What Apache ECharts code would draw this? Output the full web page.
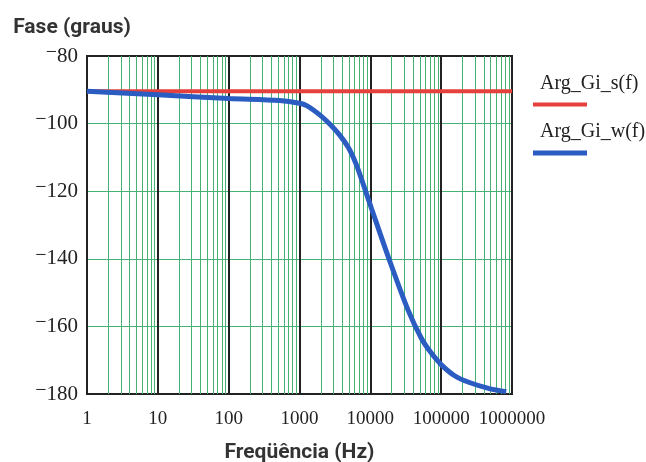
<!DOCTYPE html>
<html>
<head>
<meta charset="utf-8">
<script src="https://cdn.jsdelivr.net/npm/echarts@6/dist/echarts.min.js"></script>
<style>
  html, body { margin: 0; padding: 0; background: #fff; }
  #chart { width: 646px; height: 462px; }
</style>
</head>
<body>
<div id="chart"></div>
<script>
// Arg_Gi_s(f): fase constante
var freq_s = [1, 1000000];
var fase_s = [-90.4, -90.4];

// Arg_Gi_w(f)
var freq_w = [1, 10, 100, 525, 1000, 1260, 1950, 2690, 3700, 4900, 6300, 7900, 10500, 18600, 34000, 52500, 70800, 100000, 155000, 250000, 480000, 830000];
var fase_w = [-90.4, -91.5, -92.6, -93.2, -94.0, -94.7, -97.5, -100.2, -103.4, -107.1, -112.0, -117.8, -125.4, -140.4, -155.1, -163.5, -167.6, -171.3, -174.6, -176.6, -178.4, -179.3];

var series_names = ['Arg_Gi_s(f)', 'Arg_Gi_w(f)'];

// grade menor (2..9 em cada década)
var decadas = [1, 10, 100, 1000, 10000, 100000];
var mantissas = [2, 3, 4, 5, 6, 7, 8, 9];

var cor_s = '#e5403c';
var cor_w = '#2a5cc2';
var verde = '#45b274';
var preto = '#222';

function zip(xs, ys) {
    var out = [];
    for (var i = 0; i < xs.length; i++) out.push([xs[i], ys[i]]);
    return out;
}

var minor_lines = [];
decadas.forEach(function (d) {
    mantissas.forEach(function (m) {
        minor_lines.push({ xAxis: d * m });
    });
});

var chart = echarts.init(document.getElementById('chart'));
var option = {
    animation: false,
    backgroundColor: '#fff',
    grid: {
        left: 87,
        right: 134,
        top: 56,
        bottom: 68,
        outerBoundsMode: 'none',
        show: true,
        borderColor: preto,
        borderWidth: 2,
        backgroundColor: 'transparent'
    },
    legend: {
        orient: 'vertical',
        left: 528,
        top: 74,
        padding: 0,
        itemGap: 11.5,
        itemWidth: 0,
        itemHeight: 0,
        icon: 'none',
        data: series_names,
        formatter: function (name) {
            var key = name == series_names[0] ? 'r' : 'b';
            return '{t|' + name + '}\n{' + key + '|}';
        },
        textStyle: {
            rich: {
                t: { fontFamily: 'Liberation Serif', fontSize: 20, color: '#222', padding: [0, 0, 8.5, 7] },
                r: { width: 54, height: 4, backgroundColor: cor_s },
                b: { width: 54, height: 5, backgroundColor: cor_w }
            }
        }
    },
    xAxis: {
        type: 'log',
        logBase: 10,
        min: 1,
        max: 1000000,
        interval: 1,
        name: 'Freqüência (Hz)',
        nameLocation: 'middle',
        nameGap: 48,
        nameTextStyle: { fontFamily: 'Roboto', fontWeight: 'bold', fontSize: 21, color: '#333' },
        axisLine: { lineStyle: { color: preto, width: 2 } },
        axisTick: { show: false },
        axisLabel: {
            margin: 16,
            fontFamily: 'Liberation Serif',
            fontSize: 19,
            color: '#222',
            formatter: function (v) { return String(Math.round(v)); }
        },
        splitLine: { show: true, lineStyle: { color: preto, width: 2 } }
    },
    yAxis: {
        type: 'value',
        min: -180,
        max: -80,
        interval: 20,
        name: 'Fase (graus)',
        nameLocation: 'end',
        nameGap: 18,
        nameTextStyle: { fontFamily: 'Roboto', fontWeight: 'bold', fontSize: 21, color: '#333', align: 'center', padding: [0, 30, 0, 0] },
        axisLine: { show: true, lineStyle: { color: preto, width: 2 } },
        axisTick: { show: false },
        axisLabel: {
            margin: 9,
            color: '#222',
            formatter: function (v) {
                return '{m|−}{n|' + Math.abs(v) + '}';
            },
            rich: {
                m: { fontFamily: 'Liberation Serif', fontSize: 20, color: '#222', padding: [0, 0, 7, 0] },
                n: { fontFamily: 'Liberation Serif', fontSize: 21, color: '#222' }
            }
        },
        splitLine: {
            show: true,
            showMinLine: false,
            showMaxLine: false,
            lineStyle: { color: verde, width: 1 }
        }
    },
    series: [
        {
            name: series_names[0],
            type: 'line',
            data: zip(freq_s, fase_s),
            showSymbol: false,
            lineStyle: { color: cor_s, width: 4 },
            itemStyle: { color: cor_s },
            z: 3,
            markLine: {
                silent: true,
                symbol: 'none',
                label: { show: false },
                lineStyle: { color: verde, width: 1, type: 'solid' },
                emphasis: { disabled: true },
                data: minor_lines,
                z: 1
            }
        },
        {
            name: series_names[1],
            type: 'line',
            data: zip(freq_w, fase_w),
            showSymbol: false,
            smooth: 0.3,
            lineStyle: { color: cor_w, width: 5 },
            itemStyle: { color: cor_w },
            z: 4
        }
    ]
};
chart.setOption(option);
</script>
</body>
</html>
